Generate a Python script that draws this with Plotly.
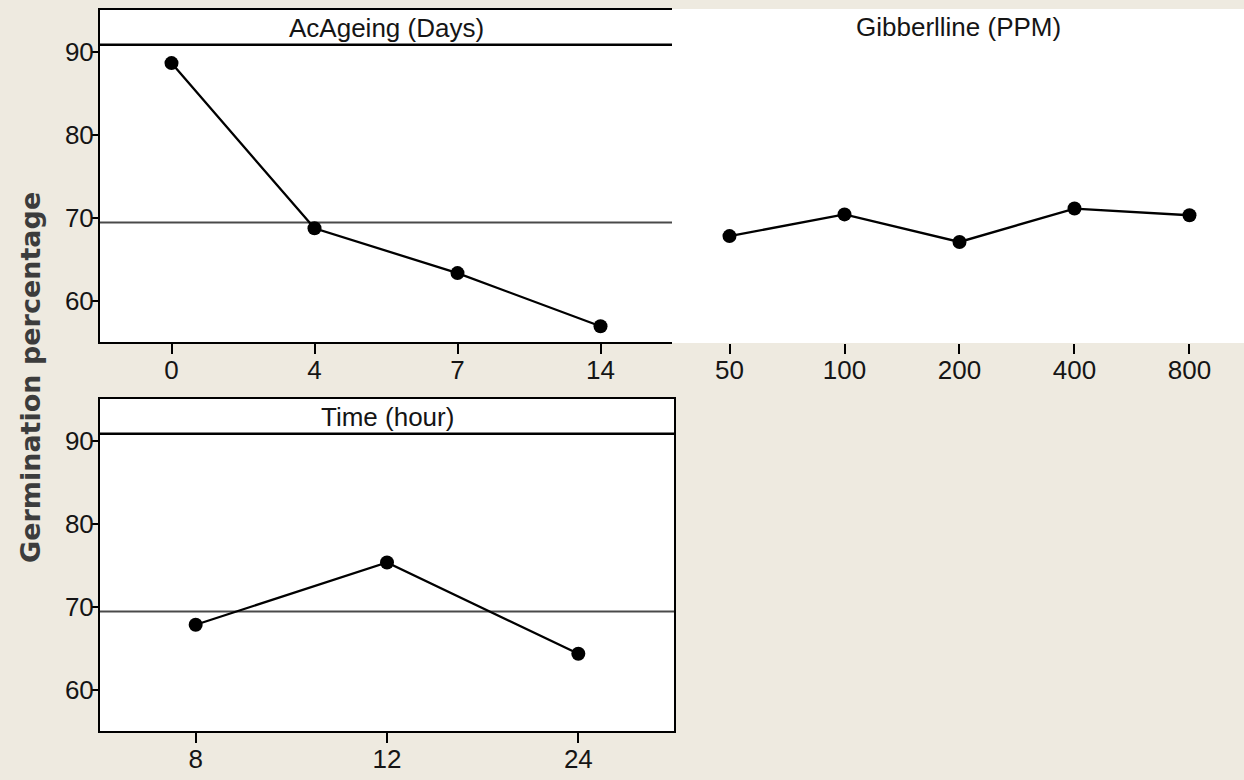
import plotly.graph_objects as go

# ---- data ----
ageing_days = ["0", "4", "7", "14"]
ageing_mean = [88.6, 68.7, 63.3, 56.9]

gib_ppm = ["50", "100", "200", "400", "800"]
gib_mean = [67.8, 70.4, 67.1, 71.1, 70.3]

time_hour = ["8", "12", "24"]
time_mean = [67.8, 75.3, 64.3]

grand_mean = 69.4
y_ticks = [60, 70, 80, 90]

panel_titles = ["AcAgeing (Days)", "Gibberlline (PPM)", "Time (hour)"]
y_title = "Germination percentage"

# ---- style ----
W, H = 1244, 780
BG = "#EEEAE0"
FONT = "Liberation Sans, Arial, sans-serif"
TXT = "#151515"
Y_RANGE = [55, 95]
HEADER_Y = 90.8


def px_x(a, b):
    return [a / W, b / W]


def px_y(top, bottom):
    return [(H - bottom) / H, (H - top) / H]


fig = go.Figure()

series = [
    (ageing_days, ageing_mean, "x", "y"),
    (gib_ppm, gib_mean, "x2", "y2"),
    (time_hour, time_mean, "x3", "y3"),
]
for cats, vals, xa, ya in series:
    fig.add_trace(go.Scatter(
        x=cats, y=vals, xaxis=xa, yaxis=ya, mode="lines+markers",
        line=dict(color="black", width=2.3),
        marker=dict(color="black", size=14),
        showlegend=False, hoverinfo="skip",
    ))

tickfont = dict(family=FONT, size=26, color=TXT)

common_x = dict(type="category", ticks="outside", ticklen=10, tickwidth=2,
                tickcolor="black", tickfont=tickfont, showgrid=False,
                zeroline=False, linecolor="black", linewidth=2,
                ticklabelstandoff=-6)
common_y = dict(range=Y_RANGE, tickvals=y_ticks, ticks="outside", ticklen=6,
                tickwidth=2, tickcolor="black", tickfont=tickfont,
                showgrid=False, zeroline=False, linecolor="black", linewidth=2,
                ticklabelstandoff=-7)

fig.update_layout(
    width=W, height=H,
    margin=dict(l=0, r=0, t=0, b=0),
    paper_bgcolor=BG, plot_bgcolor="white",
    xaxis=dict(common_x, domain=px_x(100, 672), anchor="y",
               range=[-0.5, 3.5], showline=True, mirror=True),
    yaxis=dict(common_y, domain=px_y(10, 342), anchor="x",
               showline=True, mirror=False),
    xaxis2=dict(common_x, domain=px_x(672, 1244), anchor="y2",
                range=[-0.5, 4.474], showline=False),
    yaxis2=dict(common_y, domain=px_y(9, 343), anchor="x2",
                showline=False, showticklabels=False, ticks=""),
    xaxis3=dict(common_x, domain=px_x(100, 674), anchor="y3",
                range=[-0.5, 2.5], showline=True, mirror=True),
    yaxis3=dict(common_y, domain=px_y(399, 731), anchor="x3",
                showline=True, mirror=True),
)

# header separators and grand-mean reference lines (left column panels)
for xa, ya in [("x", "y"), ("x3", "y3")]:
    fig.add_shape(type="line", xref=f"{xa} domain", yref=ya,
                  x0=0, x1=1, y0=HEADER_Y, y1=HEADER_Y,
                  line=dict(color="black", width=2.5), layer="above")
    fig.add_shape(type="line", xref=f"{xa} domain", yref=ya,
                  x0=0, x1=1, y0=grand_mean, y1=grand_mean,
                  line=dict(color="#4a4a4a", width=1.8), layer="below")

# panel titles
for title, xa, ya in [(panel_titles[0], "x", "y"), (panel_titles[1], "x2", "y2"),
                      (panel_titles[2], "x3", "y3")]:
    fig.add_annotation(text=title, xref=f"{xa} domain", yref=f"{ya} domain",
                       x=0.5, y=0.945,
                       xanchor="center", yanchor="middle", showarrow=False,
                       font=dict(family=FONT, size=26, color=TXT))

# shared y-axis title
fig.add_annotation(text=f"<b>{y_title}</b>", xref="paper", yref="paper",
                   x=30 / W, y=(H - 378) / H, textangle=-90,
                   xanchor="center", yanchor="middle", showarrow=False,
                   font=dict(family="DejaVu Sans, Verdana, sans-serif",
                             size=27, color="#3c3c3c"))

fig.write_html("out.html")
